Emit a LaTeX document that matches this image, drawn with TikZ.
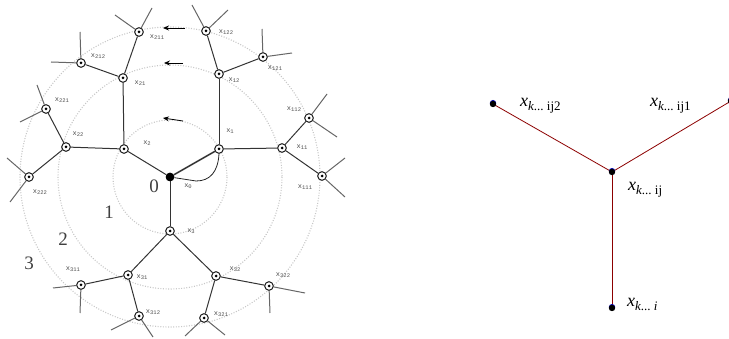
\documentclass[tikz,border=0pt]{standalone}
\usepackage{fontspec}
\setmainfont{Liberation Serif}
\setmonofont{Liberation Mono}
\usetikzlibrary{arrows.meta}
\newcommand\lblx[1]{x\raisebox{-1.3pt}{\fontsize{5.5}{6}\selectfont #1}}
\newcommand\rlbl[1]{{\fontsize{18}{20}\selectfont\itshape x}\raisebox{-4pt}{\fontsize{13}{14}\selectfont\itshape k\upshape...\ #1}}
\begin{document}
\begin{tikzpicture}[x=1pt,y=-1pt,
  tn/.style={circle,draw=black!85,fill=white,line width=0.9pt,inner sep=0pt,minimum size=8.5pt,
    path picture={\fill[black] (path picture bounding box.center) circle (1.5pt);}},
  root/.style={circle,fill=black,inner sep=0pt,minimum size=8.5pt},
  edge/.style={draw=black!80,line width=1pt},
  stub/.style={draw=black!60,line width=1pt},
  lab/.style={font=\ttfamily\fontsize{7}{8}\selectfont,text=black!70,inner sep=0pt},
  ring/.style={draw=black!22,line width=1.1pt,dash pattern=on 1pt off 1.6pt},
  digit/.style={font=\fontsize{19}{20}\selectfont,text=black!75,inner sep=0pt},
  arr/.style={-{Stealth[length=6pt,width=5pt]},line width=0.8pt,black},
  rline/.style={draw=red!55!black,line width=0.8pt},
  rlab/.style={inner sep=0pt,anchor=base west},
]
\useasboundingbox (0,0) rectangle (729,339);

% rings
\draw[ring] (170,177) circle (57);
\draw[ring] (170,177) circle (112);
\draw[ring] (170,177) circle (150);

% arrows
\coordinate (a1s) at (185,28);  \coordinate (a1e) at (163,28);
\coordinate (a2s) at (183,63);  \coordinate (a2e) at (164,63);
\coordinate (a3s) at (183,121); \coordinate (a3e) at (163,118);
\draw[arr] (a1s) -- (a1e);
\draw[arr] (a2s) -- (a2e);
\draw[arr] (a3s) -- (a3e);

% digits
\node[digit] at (154,186) {0};
\node[digit] at (109,212) {1};
\node[digit] at (63,239) {2};
\node[digit] at (29,263) {3};

% nodes
\node[root] (x0) at (170,177) {};
\node[tn] (x1) at (219,149) {};
\node[tn] (x2) at (124,149) {};
\node[tn] (x3) at (170,231) {};
\node[tn] (x11) at (282,148) {};
\node[tn] (x12) at (219,74) {};
\node[tn] (x111) at (322,176) {};
\node[tn] (x112) at (309,118) {};
\node[tn] (x121) at (263,57) {};
\node[tn] (x122) at (206,31) {};
\node[tn] (x21) at (123,78) {};
\node[tn] (x22) at (66,147) {};
\node[tn] (x211) at (139,32) {};
\node[tn] (x212) at (81,63) {};
\node[tn] (x221) at (46,109) {};
\node[tn] (x222) at (29,177) {};
\node[tn] (x31) at (128,275) {};
\node[tn] (x32) at (216,276) {};
\node[tn] (x311) at (81,285) {};
\node[tn] (x312) at (139,316) {};
\node[tn] (x321) at (204,318) {};
\node[tn] (x322) at (269,286) {};

% stub ends
\coordinate (s1) at (192,5);   \coordinate (s2) at (228,10);
\coordinate (s3) at (262,29);  \coordinate (s4) at (292,53);
\coordinate (s5) at (327,94);  \coordinate (s6) at (337,137);
\coordinate (s7) at (345,158); \coordinate (s8) at (345,197);
\coordinate (s9) at (115,15);  \coordinate (s10) at (152,8);
\coordinate (s11) at (80,32);  \coordinate (s12) at (51,62);
\coordinate (s13) at (37,85);  \coordinate (s14) at (20,122);
\coordinate (s15) at (7,158);  \coordinate (s16) at (10,202);
\coordinate (s17) at (53,288); \coordinate (s18) at (80,313);
\coordinate (s19) at (111,330);\coordinate (s20) at (153,337);
\coordinate (s21) at (305,293);\coordinate (s22) at (270,313);
\coordinate (s23) at (185,336);\coordinate (s24) at (225,335);

% edges
\draw[edge,line width=1.5pt] (x0) -- (x1);
\draw[edge] (x0) -- (x2);
\draw[edge] (x0) -- (x3);
\draw[edge] (x1) -- (x11);
\draw[edge] (x1) -- (x12);
\draw[edge] (x11) -- (x111);
\draw[edge] (x11) -- (x112);
\draw[edge] (x12) -- (x121);
\draw[edge] (x12) -- (x122);
\draw[edge] (x2) -- (x21);
\draw[edge] (x2) -- (x22);
\draw[edge] (x21) -- (x211);
\draw[edge] (x21) -- (x212);
\draw[edge] (x22) -- (x221);
\draw[edge] (x22) -- (x222);
\draw[edge] (x3) -- (x31);
\draw[edge] (x3) -- (x32);
\draw[edge] (x31) -- (x311);
\draw[edge] (x31) -- (x312);
\draw[edge] (x32) -- (x321);
\draw[edge] (x32) -- (x322);

\draw[stub] (x122) -- (s1); \draw[stub] (x122) -- (s2);
\draw[stub] (x121) -- (s3); \draw[stub] (x121) -- (s4);
\draw[stub] (x112) -- (s5); \draw[stub] (x112) -- (s6);
\draw[stub] (x111) -- (s7); \draw[stub] (x111) -- (s8);
\draw[stub] (x211) -- (s9); \draw[stub] (x211) -- (s10);
\draw[stub] (x212) -- (s11); \draw[stub] (x212) -- (s12);
\draw[stub] (x221) -- (s13); \draw[stub] (x221) -- (s14);
\draw[stub] (x222) -- (s15); \draw[stub] (x222) -- (s16);
\draw[stub] (x311) -- (s17); \draw[stub] (x311) -- (s18);
\draw[stub] (x312) -- (s19); \draw[stub] (x312) -- (s20);
\draw[stub] (x322) -- (s21); \draw[stub] (x322) -- (s22);
\draw[stub] (x321) -- (s23); \draw[stub] (x321) -- (s24);

% angle curve
\coordinate (ac) at (196,181);
\draw[black!85,line width=0.8pt] (x1.south) .. controls (218,172) and (210,181) .. (ac) -- (x0);

% redraw nodes on top
\foreach \n in {x1,x2,x3,x11,x12,x111,x112,x121,x122,x21,x22,x211,x212,x221,x222,x31,x32,x311,x312,x321,x322}
  \node[tn] at (\n) {};
\node[root] at (x0) {};

% labels
\node[lab] at (157,37) {\lblx{211}};
\node[lab] at (98,56) {\lblx{212}};
\node[lab] at (140,83) {\lblx{21}};
\node[lab] at (62,100) {\lblx{221}};
\node[lab] at (78,134) {\lblx{22}};
\node[lab] at (147,143) {\lblx{2}};
\node[lab] at (40,192) {\lblx{222}};
\node[lab] at (226,32) {\lblx{122}};
\node[lab] at (275,68) {\lblx{121}};
\node[lab] at (234,80) {\lblx{12}};
\node[lab] at (294,109) {\lblx{112}};
\node[lab] at (230,131) {\lblx{1}};
\node[lab] at (302,147) {\lblx{11}};
\node[lab] at (305,187) {\lblx{111}};
\node[lab] at (188,186) {\lblx{0}};
\node[lab] at (191,231) {\lblx{3}};
\node[lab] at (235,269) {\lblx{32}};
\node[lab] at (283,275) {\lblx{322}};
\node[lab] at (221,314) {\lblx{321}};
\node[lab] at (142,277) {\lblx{31}};
\node[lab] at (73,269) {\lblx{311}};
\node[lab] at (153,312) {\lblx{312}};

% right diagram
\coordinate (rc) at (612,172);
\coordinate (ra) at (493,104);
\coordinate (rb) at (731,101);
\coordinate (rd) at (612,308);
\draw[rline] (rc) -- (ra);
\draw[rline] (rc) -- (rb);
\draw[rline] (rc) -- (rd);
\foreach \p in {rc,ra,rb,rd} {
  \fill[blue!70!black] ([yshift=0.8pt]\p) circle (3.2pt);
  \fill[black] (\p) circle (3.2pt);
}
\node[rlab] at (520,107) {\rlbl{ij2}};
\node[rlab] at (650,107) {\rlbl{ij1}};
\node[rlab] at (628,191) {\rlbl{ij}};
\node[rlab] at (627,307) {{\fontsize{18}{20}\selectfont\itshape x}\raisebox{-4pt}{\fontsize{13}{14}\selectfont\itshape k\upshape...\ \itshape i}};
\end{tikzpicture}
\end{document}
